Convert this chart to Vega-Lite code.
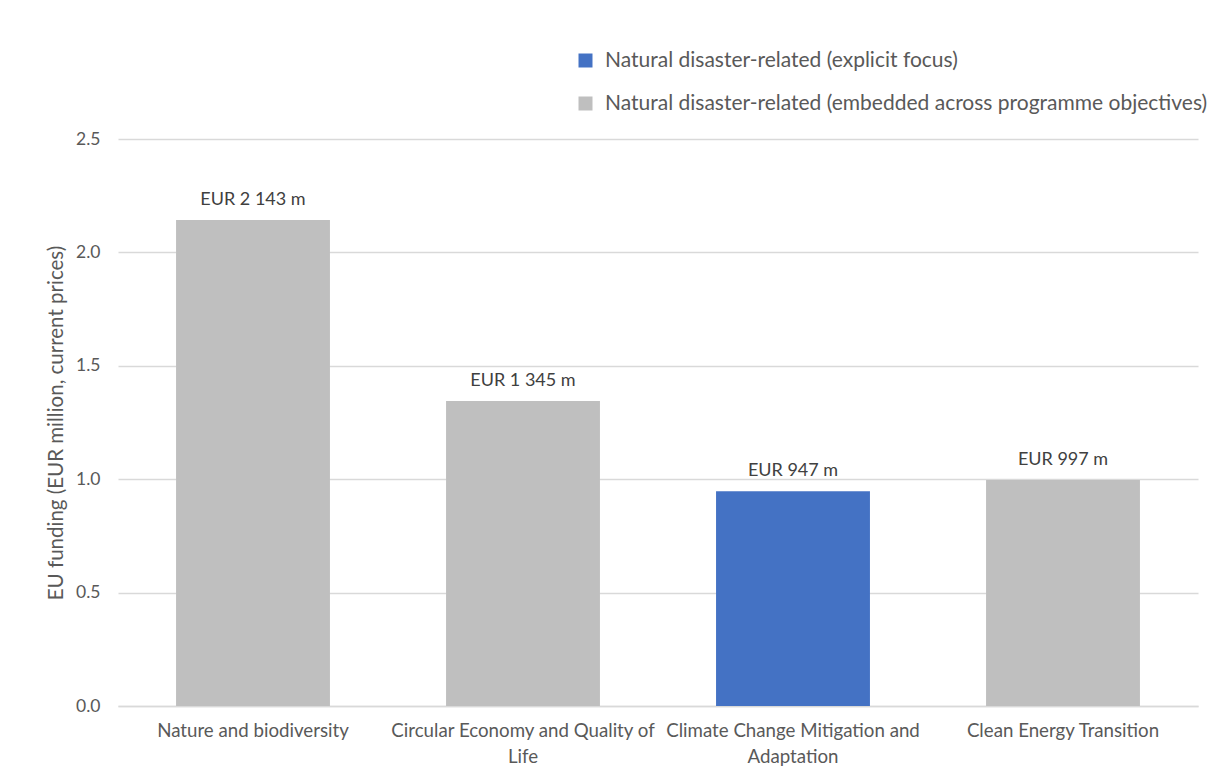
{
  "$schema": "https://vega.github.io/schema/vega-lite/v6.json",
  "width": 1080,
  "height": 567,
  "autosize": {"type": "none"},
  "padding": {"left": 118, "top": 139, "right": 21, "bottom": 72},
  "background": "white",
  "config": {
    "font": "Lato",
    "view": {"stroke": null}
  },
  "data": {
    "values": [
      {"objective": "Nature and biodiversity", "funding": 2.143, "label": "EUR 2 143 m", "type": "Natural disaster-related (embedded across programme objectives)"},
      {"objective": "Circular Economy and Quality of Life", "funding": 1.345, "label": "EUR 1 345 m", "type": "Natural disaster-related (embedded across programme objectives)"},
      {"objective": "Climate Change Mitigation and Adaptation", "funding": 0.947, "label": "EUR 947 m", "type": "Natural disaster-related (explicit focus)"},
      {"objective": "Clean Energy Transition", "funding": 0.997, "label": "EUR 997 m", "type": "Natural disaster-related (embedded across programme objectives)"}
    ]
  },
  "encoding": {
    "x": {
      "field": "objective",
      "type": "nominal",
      "sort": null,
      "scale": {"paddingInner": 0.43, "paddingOuter": 0.215},
      "axis": {
        "title": null,
        "labelAngle": 0,
        "labelFontSize": 18.7,
        "labelColor": "#595959",
        "labelPadding": 15,
        "labelLineHeight": 26,
        "labelLimit": 400,
        "ticks": false,
        "domainColor": "#d9d9d9",
        "domainWidth": 1.5,
        "labelExpr": "datum.value == 'Circular Economy and Quality of Life' ? ['Circular Economy and Quality of', 'Life'] : datum.value == 'Climate Change Mitigation and Adaptation' ? ['Climate Change Mitigation and', 'Adaptation'] : datum.value"
      }
    },
    "y": {
      "field": "funding",
      "type": "quantitative",
      "scale": {"domain": [0, 2.5], "nice": false},
      "axis": {
        "title": "EU funding (EUR million, current prices)",
        "titleFontSize": 20.5,
        "titleFontWeight": "normal",
        "titleColor": "#595959",
        "titlePadding": 9,
        "values": [0, 0.5, 1, 1.5, 2, 2.5],
        "format": ".1f",
        "labelFontSize": 17.5,
        "labelColor": "#595959",
        "labelPadding": 18,
        "ticks": false,
        "domain": false,
        "gridColor": "#d9d9d9",
        "gridWidth": 1.5
      }
    }
  },
  "layer": [
    {
      "mark": {"type": "bar"},
      "encoding": {
        "color": {
          "field": "type",
          "type": "nominal",
          "scale": {
            "domain": ["Natural disaster-related (explicit focus)", "Natural disaster-related (embedded across programme objectives)"],
            "range": ["#4472c4", "#bfbfbf"]
          },
          "legend": {
            "title": null,
            "orient": "none",
            "legendX": 457,
            "legendY": -89,
            "symbolType": "square",
            "symbolSize": 196,
            "symbolStrokeWidth": 0,
            "labelFontSize": 21,
            "labelColor": "#595959",
            "labelOffset": 9,
            "labelLimit": 700,
            "rowPadding": 21
          }
        }
      }
    },
    {
      "mark": {"type": "text", "baseline": "alphabetic", "dy": -15, "fontSize": 18, "color": "#404040"},
      "encoding": {
        "text": {"field": "label"}
      }
    }
  ]
}
